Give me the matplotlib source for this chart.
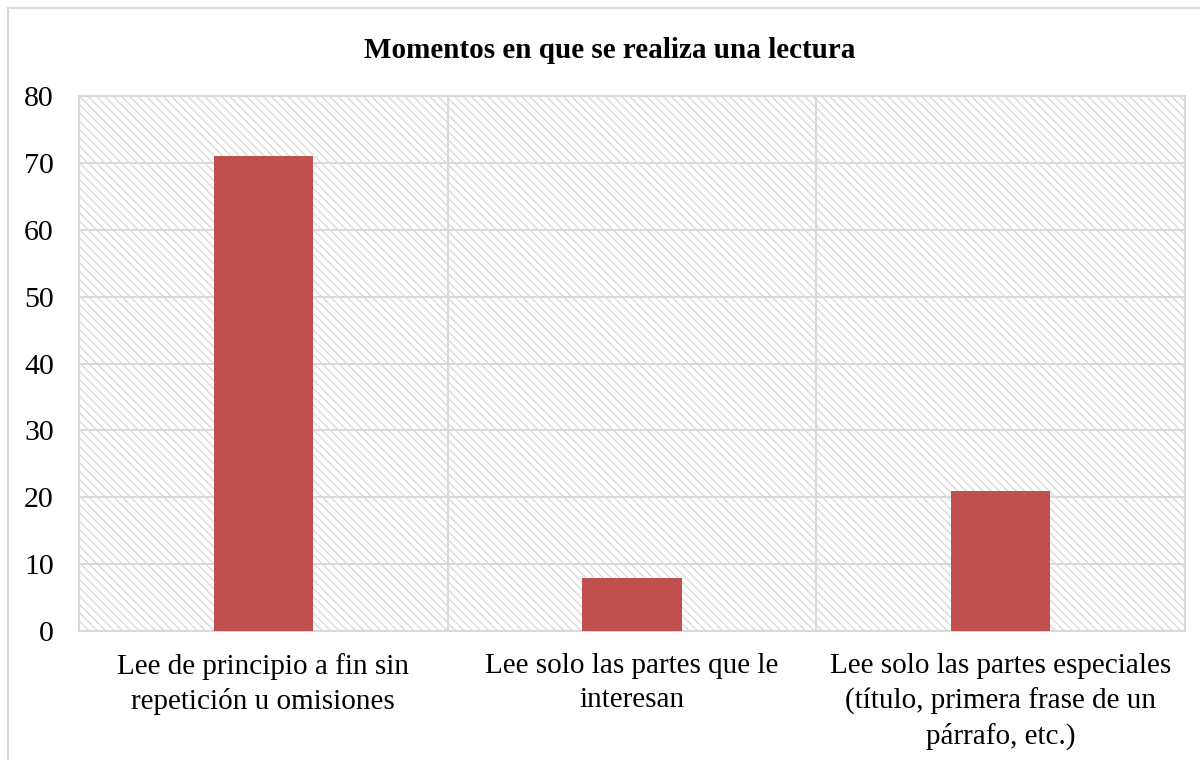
import matplotlib.pyplot as plt
from matplotlib.patches import Rectangle

categorias = [
    "Lee de principio a fin sin\nrepetición u omisiones",
    "Lee solo las partes que le\ninteresan",
    "Lee solo las partes especiales\n(título, primera frase de un\npárrafo, etc.)",
]
valores = [71, 8, 21]
yticks = [0, 10, 20, 30, 40, 50, 60, 70, 80]
titulo = "Momentos en que se realiza una lectura"

plt.rcParams['font.family'] = ['Liberation Serif', 'DejaVu Serif']
plt.rcParams['hatch.linewidth'] = 1.0

fig = plt.figure(figsize=(12, 7.6), dpi=100)
fig.patches.append(Rectangle((8 / 1200, -0.1), 1.2, 1 - 8 / 760 + 0.1,
                             transform=fig.transFigure, facecolor='none',
                             edgecolor='#d9d9d9', linewidth=1.5))

ax = fig.add_axes([79 / 1200, 1 - 631 / 760, (1185 - 79) / 1200, (631 - 96) / 760])

# fondo rayado del area de trazado
ax.add_patch(Rectangle((0, 0), 1, 1, transform=ax.transAxes, facecolor='white',
                       edgecolor='#d9d9d9', hatch='\\\\\\\\', linewidth=0, zorder=0))

x = range(len(categorias))
ax.bar(x, valores, width=0.27, color='#C0504D', zorder=3)

ax.set_xlim(-0.5, 2.5)
ax.set_ylim(0, 80)
ax.set_yticks(yticks)
ax.set_xticks(list(x))
ax.set_xticklabels(categorias, fontsize=21, linespacing=1.39)
ax.tick_params(axis='y', labelsize=21.5, length=0, pad=18)
ax.tick_params(axis='x', length=0, pad=16)

ax.set_xticks([0.5, 1.5], minor=True)
ax.tick_params(axis='x', which='minor', length=0)
ax.grid(True, axis='y', color='#d9d9d9', linewidth=1.5, zorder=1)
ax.grid(True, axis='x', which='minor', color='#d9d9d9', linewidth=1.5, zorder=1)
ax.grid(False, axis='x', which='major')
ax.set_axisbelow(True)

for s in ax.spines.values():
    s.set_color('#d9d9d9')
    s.set_linewidth(1.5)

fig.text(610 / 1200, 1 - 50 / 760, titulo, ha='center', va='center',
         fontsize=21, fontweight='bold')

fig.savefig('out.png', dpi=100)
